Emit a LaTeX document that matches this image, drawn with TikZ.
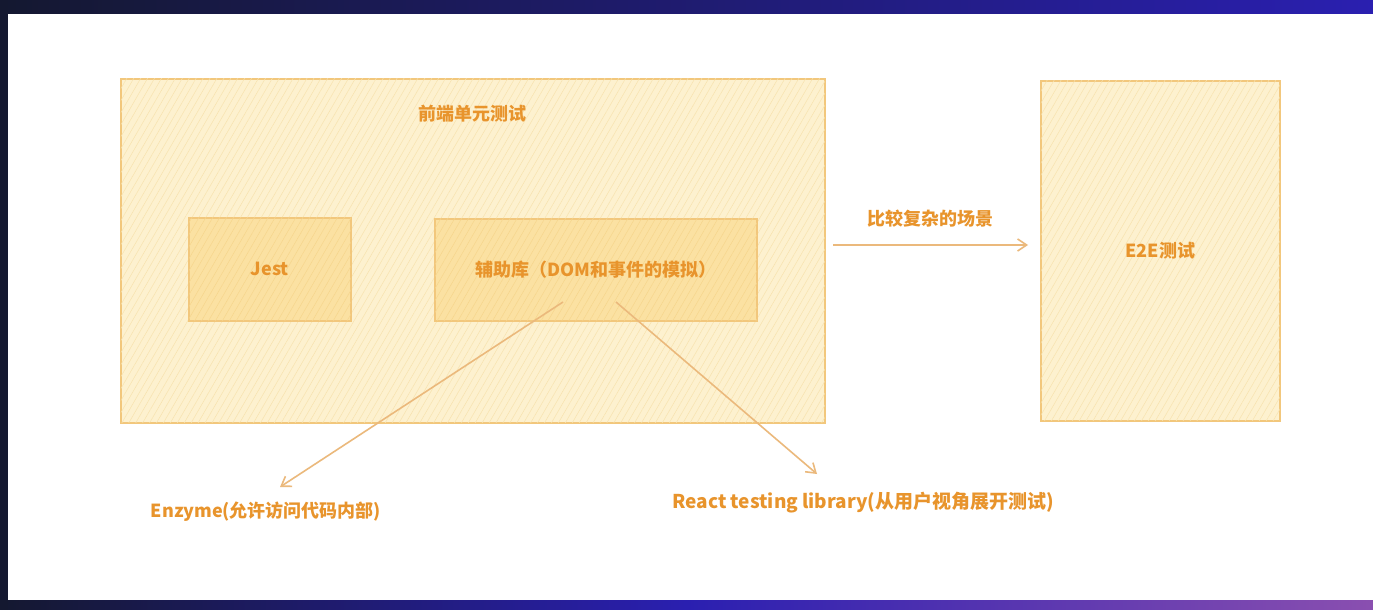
\documentclass[tikz,border=0pt]{standalone}
\usepackage{fontspec}
\setmainfont{Noto Sans CJK SC}
\usetikzlibrary{arrows.meta,patterns.meta}
\definecolor{frameA}{HTML}{141830}
\definecolor{frameB}{HTML}{2A1FB0}
\definecolor{frameC}{HTML}{8A4FB0}
\definecolor{outerfill}{HTML}{FDF1CF}
\definecolor{innerfill}{HTML}{FBE1A2}
\definecolor{boxline}{HTML}{F2C77C}
\definecolor{txt}{HTML}{E8942C}
\definecolor{arr}{HTML}{EBB97C}
\definecolor{hatch}{HTML}{F7E2AE}
\definecolor{hatchin}{HTML}{F6D58C}
\tikzset{
  px/.style={x=1pt,y=-1pt},
  outerbox/.style={draw=boxline,line width=1.5pt,fill=outerfill,anchor=north west,inner sep=0pt,
    postaction={pattern={Lines[angle=60,distance=6pt,line width=0.5pt]},pattern color=hatch}},
  innerbox/.style={draw=boxline,line width=1.5pt,fill=innerfill,anchor=north west,inner sep=0pt,
    postaction={pattern={Lines[angle=60,distance=6pt,line width=0.5pt]},pattern color=hatchin}},
  lbl/.style={text=txt,font=\bfseries\fontsize{18}{20}\selectfont},
  conn/.style={draw=arr,line width=1.6pt,-{Straight Barb[length=9pt,width=12pt,line width=1.6pt]}}
}
\begin{document}
\begin{tikzpicture}[px]
\useasboundingbox (0,0) rectangle (1373,610);
% screenshot frame
\shade[left color=frameA,right color=frameB] (0,0) rectangle (1373,14);
\shade[left color=frameA,right color=frameC,middle color=frameB] (0,600) rectangle (1373,610);
\fill[frameA] (0,0) rectangle (8,610);
\fill[white] (8,14) rectangle (1373,600);
% boxes
\node[outerbox,minimum width=704pt,minimum height=344pt] (unit) at (120,78) {};
\node[outerbox,minimum width=239pt,minimum height=340pt] (e2e) at (1040,80) {};
\node[innerbox,minimum width=162pt,minimum height=103pt] (jest) at (188,217) {};
\node[innerbox,minimum width=322pt,minimum height=102pt] (helper) at (434,218) {};
% texts
\node[lbl] (title) at (472,114) {前端单元测试};
\node[lbl] at (jest.center) {Jest};
\node[lbl] at (helper.center) {辅助库（DOM和事件的模拟）};
\node[lbl] at (e2e.center) {E2E测试};
\node[lbl] (cplx) at (930,219) {比较复杂的场景};
\node[lbl] (enz) at (266,512) {Enzyme(允许访问代码内部)};
\node[lbl,font=\bfseries\fontsize{19}{21}\selectfont] (rtl) at (863,503) {React testing library(从用户视角展开测试)};
% connectors
\coordinate (a1) at (833,245);
\coordinate (a2) at (1028,245);
\draw[conn] (a1) -- (a2);
\coordinate (h1) at (563,302);
\coordinate (h2) at (616,302);
\coordinate (e1) at (280,487);
\coordinate (r1) at (817,474);
\draw[conn] (h1) -- (e1);
\draw[conn] (h2) -- (r1);
\end{tikzpicture}
\end{document}
